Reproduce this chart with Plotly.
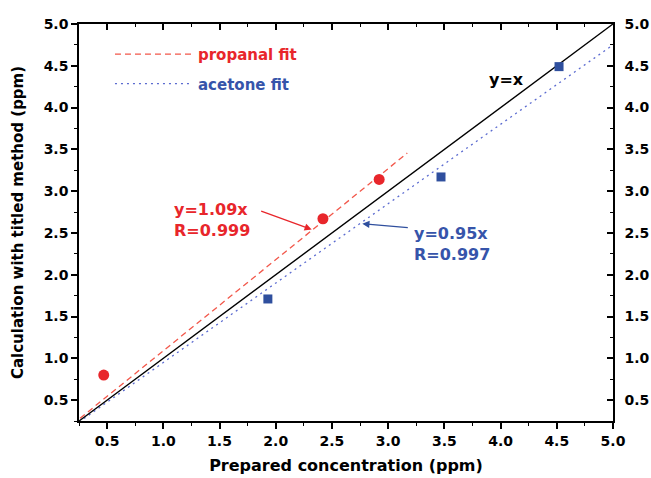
import plotly.graph_objects as go

# Data
propanal_x = [0.47, 2.42, 2.92]
propanal_y = [0.80, 2.67, 3.14]
acetone_x = [1.93, 3.47, 4.52]
acetone_y = [1.71, 3.17, 4.49]
propanal_slope = 1.09
acetone_slope = 0.95
propanal_fit_x = [0.26, 3.17]
acetone_fit_x = [0.25, 5.0]
identity_x = [0.25, 5.0]
tick_vals = [0.5, 1.0, 1.5, 2.0, 2.5, 3.0, 3.5, 4.0, 4.5, 5.0]
tick_text = ["<b>%.1f</b>" % v for v in tick_vals]

RED = "#e8262b"
RED_LINE = "#f2574a"
BLUE = "#2f4f9e"
BLUE_LINE = "#5b6bd0"
BLUE_TXT = "#3654aa"
FONT = "DejaVu Sans, sans-serif"

fig = go.Figure()

fig.add_trace(go.Scatter(
    x=propanal_fit_x, y=[propanal_slope * v for v in propanal_fit_x],
    mode="lines", line=dict(color=RED_LINE, width=1.3, dash="6px,4px"),
    name="<b><span style='color:%s'>propanal fit</span></b>" % RED,
    legendgroup="p", showlegend=True))
fig.add_trace(go.Scatter(
    x=acetone_fit_x, y=[acetone_slope * v for v in acetone_fit_x],
    mode="lines", line=dict(color=BLUE_LINE, width=1.3, dash="2px,4px"),
    name="<b><span style='color:%s'>acetone fit</span></b>" % BLUE_TXT,
    legendgroup="a", showlegend=True))
fig.add_trace(go.Scatter(
    x=identity_x, y=identity_x, mode="lines",
    line=dict(color="black", width=1.4), showlegend=False))
fig.add_trace(go.Scatter(
    x=propanal_x, y=propanal_y, mode="markers",
    marker=dict(color=RED, size=11, symbol="circle"), showlegend=False))
fig.add_trace(go.Scatter(
    x=acetone_x, y=acetone_y, mode="markers",
    marker=dict(color=BLUE, size=9, symbol="square"), showlegend=False))

fig.add_trace(go.Scatter(x=[None], y=[None], xaxis="x2", yaxis="y2", showlegend=False))

def axis(ticks, **kw):
    d = dict(
        range=[0.25, 5.0], tickmode="array", tickvals=tick_vals, ticktext=tick_text,
        showgrid=False, zeroline=False, showline=True, linecolor="black", linewidth=1.5,
        ticks=ticks, tickwidth=1.5, tickcolor="black", ticklen=6, automargin=False,
        minor=dict(tickmode="array", tickvals=[0.25 + 0.5 * i for i in range(10)],
                   ticks=ticks, ticklen=3.5, tickwidth=1.2, tickcolor="black", showgrid=False),
        tickfont=dict(family=FONT, size=14, color="black"),
    )
    d.update(kw)
    return d

fig.update_layout(
    width=651, height=478,
    margin=dict(l=79, r=38, t=24, b=57),
    paper_bgcolor="white", plot_bgcolor="white",
    font=dict(family=FONT, color="black"),
    xaxis=axis("outside",
               title=dict(text="<b>Prepared concentration (ppm)</b>",
                          font=dict(family=FONT, size=16, color="black"), standoff=12)),
    yaxis=axis("outside",
               title=dict(text="<b>Calculation with titled method (ppm)</b>",
                          font=dict(family=FONT, size=15, color="black"), standoff=16)),
    xaxis2=axis("inside", overlaying="x", side="top", showticklabels=False, anchor="y"),
    yaxis2=axis("inside", overlaying="y", side="right", showticklabels=True, anchor="x",
                ticklabelstandoff=7),
    legend=dict(x=0.058, y=0.965, xanchor="left", yanchor="top",
                bgcolor="rgba(0,0,0,0)", font=dict(family=FONT, size=15),
                tracegroupgap=7, itemwidth=78),
    showlegend=True,
)

ann_font = dict(family=FONT, size=16)
fig.add_annotation(x=2.32, y=2.54, xref="x", yref="y", ax=-52, ay=-19,
                   text="", showarrow=True, arrowhead=2, arrowsize=1.1, arrowwidth=1.3, arrowcolor=RED)
fig.add_annotation(x=1.08, y=2.66, xref="x", yref="y", xanchor="left", yanchor="middle",
                   text="<b>y=1.09x<br>R=0.999</b>", showarrow=False,
                   font=dict(color=RED, **ann_font), align="left")
fig.add_annotation(x=2.77, y=2.61, xref="x", yref="y", ax=47, ay=4,
                   text="", showarrow=True, arrowhead=2, arrowsize=1.1, arrowwidth=1.3, arrowcolor=BLUE)
fig.add_annotation(x=3.21, y=2.37, xref="x", yref="y", xanchor="left", yanchor="middle",
                   text="<b>y=0.95x<br>R=0.997</b>", showarrow=False,
                   font=dict(color=BLUE_TXT, **ann_font), align="left")
fig.add_annotation(x=3.88, y=4.34, xref="x", yref="y", xanchor="left", yanchor="middle",
                   text="<b>y=x</b>", showarrow=False, font=dict(color="black", **ann_font))

fig.write_html("out.html", post_script="document.body.style.margin='0';",
               config={"displayModeBar": False})
